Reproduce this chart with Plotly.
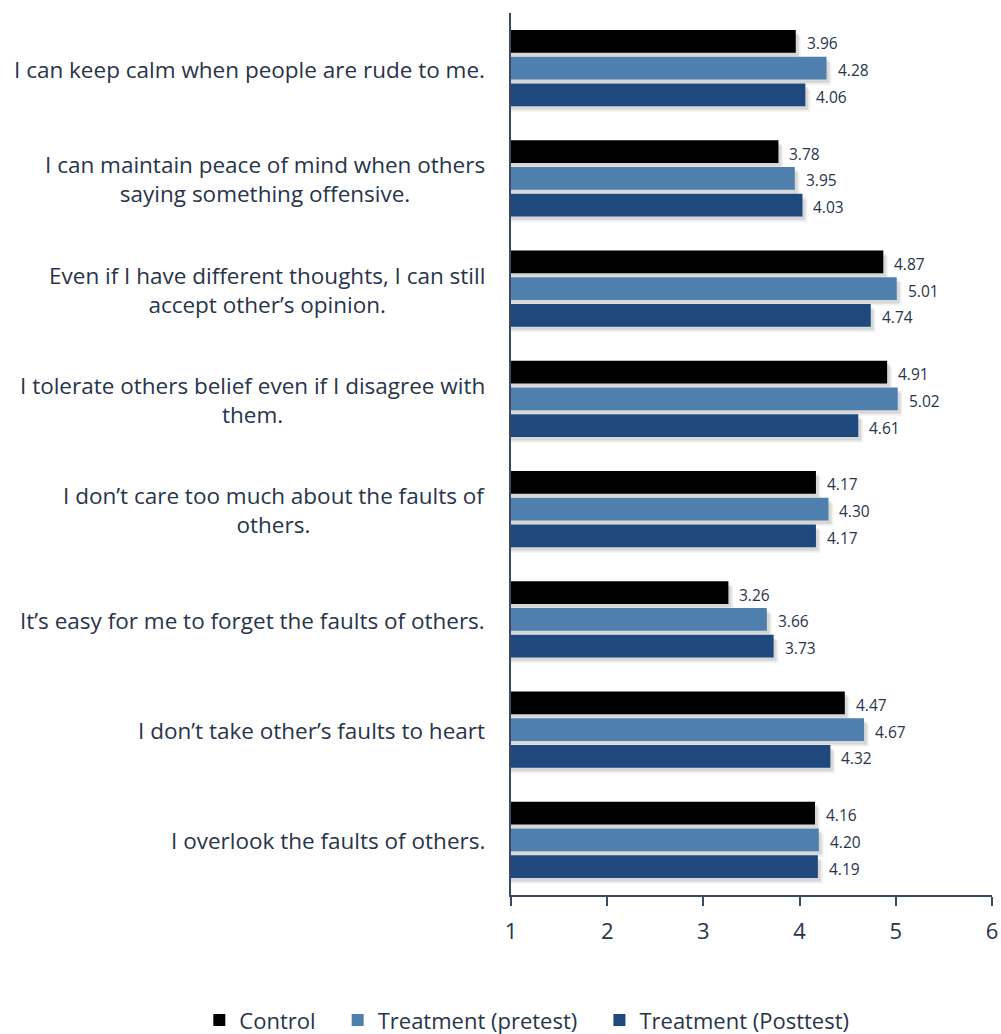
import plotly.graph_objects as go

# Survey statements (top to bottom) and mean scores per group
statements = [
    "I can keep calm when people are rude to me.",
    "I can maintain peace of mind when others<br>saying something offensive.",
    "Even if I have different thoughts, I can still<br>accept other\u2019s opinion.",
    "I tolerate others belief even if I disagree with<br>them.",
    "I don\u2019t care too much about the faults of<br>others.",
    "It\u2019s easy for me to forget the faults of others.",
    "I don\u2019t take other\u2019s faults to heart",
    "I overlook the faults of others.",
]
control = [3.96, 3.78, 4.87, 4.91, 4.17, 3.26, 4.47, 4.16]
pretest = [4.28, 3.95, 5.01, 5.02, 4.30, 3.66, 4.67, 4.20]
posttest = [4.06, 4.03, 4.74, 4.61, 4.17, 3.73, 4.32, 4.19]

series = [
    ("Control", control, "#000000"),
    ("Treatment (pretest)", pretest, "#4f80ad"),
    ("Treatment (Posttest)", posttest, "#1f497d"),
]

TEXT = "#28344a"
AXIS = "#3b4a60"
FONT = "Open Sans"
PAD = "\u00a0" * 3  # extra room between legend entries

pos = list(range(len(statements)))
bar_w = 0.205
step = 0.243
centers = [-step, 0.0, step]

fig = go.Figure()

# soft drop shadows under each bar
for (name, vals, color), c in zip(series, centers):
    for dx, dy, alpha in [(0.05, 0.05, 0.06), (0.03, 0.032, 0.10)]:
        fig.add_trace(go.Bar(
            y=pos, x=[v + dx for v in vals], orientation="h",
            width=bar_w, offset=c - bar_w / 2 + dy,
            marker=dict(color=f"rgba(0,0,0,{alpha})", line=dict(width=0)),
            showlegend=False, hoverinfo="skip",
        ))

for (name, vals, color), c in zip(series, centers):
    fig.add_trace(go.Bar(
        y=pos, x=vals, orientation="h", name=name + PAD,
        width=bar_w, offset=c - bar_w / 2,
        marker=dict(color=color, line=dict(width=0)),
    ))

annotations = []
# value labels just past the bar ends
for (name, vals, color), c in zip(series, centers):
    for p, v in zip(pos, vals):
        annotations.append(dict(
            x=v, y=p + c, xref="x", yref="y", text=f"{v:.2f}",
            showarrow=False, xanchor="left", yanchor="middle",
            xshift=9, yshift=-2,
            font=dict(family=FONT, size=15.5, color=TEXT),
        ))
# statement labels, centred line by line, right edge near the axis
for p, s in zip(pos, statements):
    annotations.append(dict(
        x=-0.05, y=p, xref="paper", yref="y", text=s,
        showarrow=False, xanchor="right", yanchor="middle", align="center",
        yshift=-1,
        font=dict(family=FONT, size=22.5, color=TEXT),
    ))

fig.update_layout(
    width=1001, height=1034,
    margin=dict(l=511, r=9, t=13, b=139, autoexpand=False),
    paper_bgcolor="white", plot_bgcolor="white",
    barmode="overlay",
    annotations=annotations,
    font=dict(family=FONT, color=TEXT),
    xaxis=dict(
        range=[1, 6], tickvals=[1, 2, 3, 4, 5, 6],
        showgrid=False, zeroline=False,
        showline=True, linecolor=AXIS, linewidth=2,
        ticks="outside", ticklen=9, tickwidth=2, tickcolor=AXIS,
        ticklabelstandoff=7,
        tickfont=dict(family=FONT, size=22, color=TEXT),
    ),
    yaxis=dict(
        range=[len(statements) - 0.5, -0.5],
        showgrid=False, zeroline=False, showticklabels=False, ticks="",
        showline=True, linecolor=AXIS, linewidth=2,
    ),
    legend=dict(
        orientation="h", xref="paper", yref="paper",
        x=-0.648, xanchor="left", y=-0.142, yanchor="middle",
        font=dict(family=FONT, size=22, color=TEXT),
        itemwidth=30, tracegroupgap=0,
    ),
)

fig.write_html("out.html")
